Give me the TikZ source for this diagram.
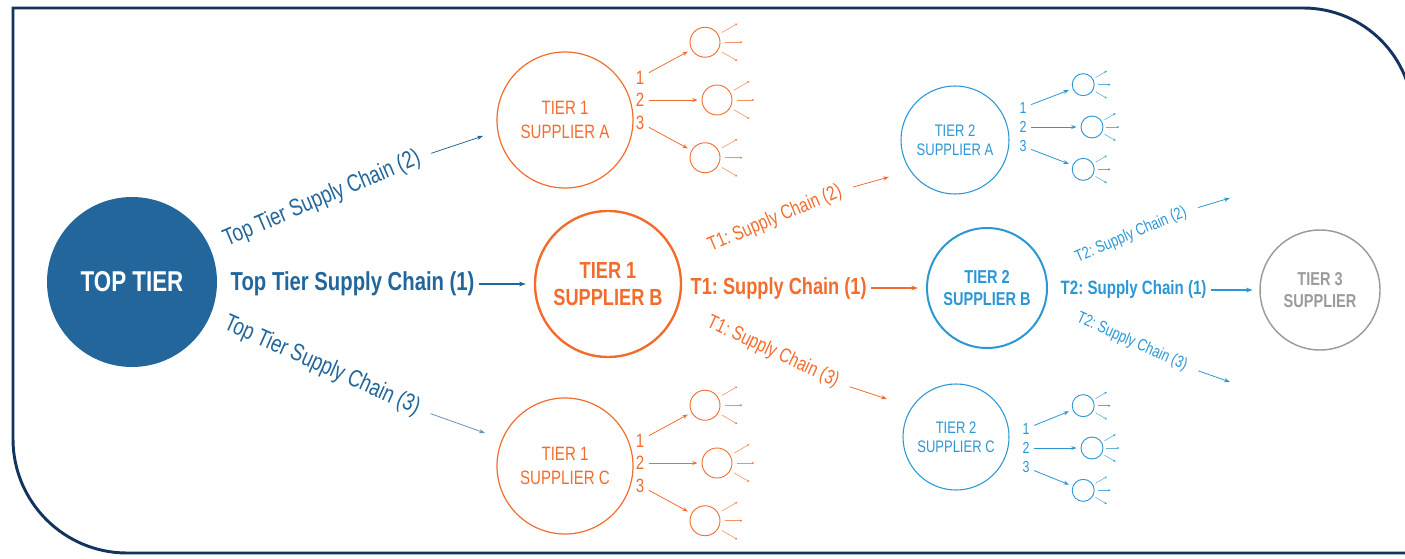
\documentclass[tikz,border=0pt]{standalone}
\usepackage{fontspec}
\setmainfont{Liberation Sans}[FakeStretch=0.78]
\usetikzlibrary{calc,arrows.meta}
\definecolor{TopBlue}{HTML}{22669B}
\definecolor{TierOrange}{HTML}{F26D2D}
\definecolor{TierBlue}{HTML}{2B97D5}
\definecolor{TierGray}{HTML}{9B9B9B}
\definecolor{FrameBlue}{HTML}{14335E}
\newcommand{\Px}{0.75pt}
\newcommand{\FontAt}[1]{\fontsize{#1}{#1}\selectfont}
\frenchspacing
% name/x/y/colour/radius/x of the numbers
\def\SubGroups{TierOneA/717/100/TierOrange/15/640, TierOneC/717/463/TierOrange/15/640, TierTwoA/1092/127/TierBlue/11/1023, TierTwoC/1092/448/TierBlue/11/1026}
\tikzset{Supplier/.style={
		circle,
		inner sep=0pt,
		align=center,
	},
	SmallCircle/.style={
		circle,
		inner sep=0pt,
		line width=0.7pt,
	},
	Chain/.style={-{Stealth[length=5pt,width=3.6pt]}, line width=0.8pt},
	ThinChain/.style={-{Stealth[length=4.5pt,width=3.2pt]}, line width=0.6pt, shorten <=6pt},
	SubChain/.style={-{Stealth[length=4pt,width=3pt]}, line width=0.6pt, shorten >=3pt},
	Fan/.style={-{Stealth[length=2pt,width=1.8pt]}, line width=0.45pt, opacity=0.75},
}

\begin{document}
\begin{tikzpicture}[x=\Px, y=-\Px]
	\useasboundingbox (0,0) rectangle (1405,559);
	% frame
	\draw[FrameBlue, line width=2.2pt] (1405,553) -- (127,553) .. controls (64,553) and (13,502) .. (13,439) -- (13,8) -- (1303,8) .. controls (1364,8) and (1413,57) .. (1413,118) -- (1413,553);

	% suppliers
	\node[Supplier, fill=TopBlue, minimum size={170*\Px}, text=white, font=\bfseries\FontAt{21.5}] (TopTier) at (132,282) {TOP TIER};
	\node[Supplier, draw=TierOrange, line width=0.9pt, minimum size={136*\Px}, text=TierOrange, font=\fontsize{14.5}{17.5}\selectfont] (TierOneA) at (565,120) {TIER 1\\SUPPLIER A};
	\node[Supplier, draw=TierOrange, line width=1.8pt, minimum size={146*\Px}, text=TierOrange, font=\bfseries\fontsize{17.5}{20}\selectfont] (TierOneB) at (608,284) {TIER 1\\SUPPLIER B};
	\node[Supplier, draw=TierOrange, line width=0.9pt, minimum size={136*\Px}, text=TierOrange, font=\fontsize{14.5}{17.5}\selectfont] (TierOneC) at (565,466) {TIER 1\\SUPPLIER C};
	\node[Supplier, draw=TierBlue, line width=0.8pt, minimum size={108*\Px}, text=TierBlue, font=\fontsize{12.5}{14.5}\selectfont] (TierTwoA) at (955,140) {TIER 2\\SUPPLIER A};
	\node[Supplier, draw=TierBlue, line width=1.5pt, minimum size={120*\Px}, text=TierBlue, font=\bfseries\fontsize{14}{16.5}\selectfont] (TierTwoB) at (987,288) {TIER 2\\SUPPLIER B};
	\node[Supplier, draw=TierBlue, line width=0.8pt, minimum size={106*\Px}, text=TierBlue, font=\fontsize{12.5}{14.5}\selectfont] (TierTwoC) at (956,437) {TIER 2\\SUPPLIER C};
	\node[Supplier, draw=TierGray, line width=1.1pt, minimum size={120*\Px}, text=TierGray, font=\bfseries\fontsize{14}{16.5}\selectfont] (TierThree) at (1320,290) {TIER 3\\SUPPLIER};

	% chain labels
	\node[anchor=west, text=TopBlue, font=\bfseries\FontAt{19.5}] (TopChainOne) at (226,284) {Top Tier Supply Chain (1)};
	\node[rotate=23, text=TopBlue, font=\FontAt{18}] (TopChainTwo) at (322,199) {Top Tier Supply Chain (2)};
	\node[rotate=-24, text=TopBlue, font=\FontAt{18}] (TopChainThree) at (322,366) {Top Tier Supply Chain (3)};
	\node[anchor=west, text=TierOrange, font=\bfseries\FontAt{17.5}] (OneChainOne) at (686,288) {T1: Supply Chain (1)};
	\node[rotate=23, text=TierOrange, font=\FontAt{15}] (OneChainTwo) at (775,219) {T1: Supply Chain (2)};
	\node[rotate=-25, text=TierOrange, font=\FontAt{15}] (OneChainThree) at (773,352) {T1: Supply Chain (3)};
	\node[anchor=west, text=TierBlue, font=\bfseries\FontAt{14.5}] (TwoChainOne) at (1056,290) {T2: Supply Chain (1)};
	\node[rotate=23, text=TierBlue, font=\FontAt{12.5}] (TwoChainTwo) at (1131,235) {T2: Supply Chain (2)};
	\node[rotate=-24, text=TierBlue, font=\FontAt{12.5}] (TwoChainThree) at (1132,342) {T2: Supply Chain (3)};

	\coordinate (TopTipTwo) at (483,136);
	\coordinate (TopTipThree) at (485,433);
	\coordinate (OneTipTwo) at (889,177);
	\coordinate (OneTipThree) at (887,399);
	\coordinate (TwoTipTwo) at (1230,198);
	\coordinate (TwoTipThree) at (1230,382);

	\draw[Chain, TopBlue, shorten >=6pt] (TopChainOne) -- (TierOneB);
	\draw[Chain, TierOrange, shorten >=6pt] (OneChainOne) -- (TierTwoB);
	\draw[Chain, TierBlue, shorten >=5pt] (TwoChainOne) -- (TierThree);
	\draw[ThinChain, TopBlue] (TopChainTwo.east) -- (TopTipTwo);
	\draw[ThinChain, TopBlue!70] (TopChainThree.east) -- (TopTipThree);
	\draw[ThinChain, TierOrange] (OneChainTwo.east) -- (OneTipTwo);
	\draw[ThinChain, TierOrange] (OneChainThree.east) -- (OneTipThree);
	\draw[ThinChain, TierBlue] (TwoChainTwo.east) -- (TwoTipTwo);
	\draw[ThinChain, TierBlue] (TwoChainThree.east) -- (TwoTipThree);

	% sub suppliers 1, 2, 3
	\foreach \Grp/\GX/\GY/\Clr/\Rad/\NX in \SubGroups{%
		\pgfmathsetmacro{\Gap}{\Rad*3.85}
		\pgfmathsetmacro{\Shift}{\Rad*0.8}
		\pgfmathsetmacro{\NumGap}{\Rad*0.8+10.5}
		\pgfmathsetmacro{\NumSize}{\Rad*0.625+5.1}
		\node[text=\Clr, font=\FontAt{\NumSize}] (\Grp-n1) at (\NX,\GY-\NumGap) {1};
		\node[text=\Clr, font=\FontAt{\NumSize}] (\Grp-n2) at (\NX,\GY) {2};
		\node[text=\Clr, font=\FontAt{\NumSize}] (\Grp-n3) at (\NX,\GY+\NumGap) {3};
		\node[SmallCircle, draw=\Clr, minimum size={2*\Rad*\Px}] (\Grp-s1) at (\GX-\Shift,\GY-\Gap) {};
		\node[SmallCircle, draw=\Clr, minimum size={2*\Rad*\Px}] (\Grp-s2) at (\GX,\GY) {};
		\node[SmallCircle, draw=\Clr, minimum size={2*\Rad*\Px}] (\Grp-s3) at (\GX-\Shift,\GY+\Gap) {};
		\foreach \k in {1,2,3}{%
			\draw[SubChain, \Clr] (\Grp-n\k) -- (\Grp-s\k);
			\foreach \Ang in {-30,0,30}
				\draw[Fan, \Clr] ($(\Grp-s\k.center)+(\Ang:{\Rad*1.3})$) -- ($(\Grp-s\k.center)+(\Ang:{\Rad*2.5})$);
		}
	}
\end{tikzpicture}
\end{document}
